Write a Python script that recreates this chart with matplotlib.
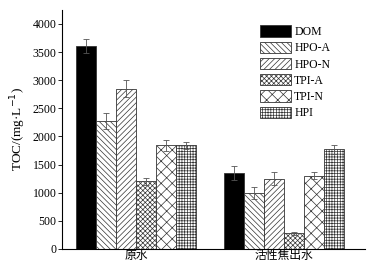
import numpy as np
import matplotlib.pyplot as plt

plt.rcParams['font.family'] = ['Liberation Serif', 'Noto Sans CJK SC']
plt.rcParams['hatch.linewidth'] = 0.5
plt.rcParams['hatch.color'] = '#666666'

grupos = ['原水', '活性焦出水']
fracciones = ['DOM', 'HPO-A', 'HPO-N', 'TPI-A', 'TPI-N', 'HPI']
valores = [
    [3610, 1350],
    [2270, 1000],
    [2850, 1250],
    [1200, 280],
    [1840, 1300],
    [1840, 1770],
]
errores = [
    [120, 120],
    [140, 110],
    [150, 120],
    [60, 30],
    [90, 60],
    [60, 80],
]
tramas = ['', '\\' * 6, '/' * 6, 'x' * 7, 'xxx', '+' * 6]

fig = plt.figure(figsize=(3.67, 2.68), dpi=100)
ax = fig.add_axes([0.169, 0.071, 0.826, 0.892])

x = np.arange(len(grupos))
ancho = 0.135
for i, (nombre, vals, errs, trama) in enumerate(zip(fracciones, valores, errores, tramas)):
    pos = x + (i - 2.5) * ancho
    color = 'black' if i == 0 else 'white'
    ax.bar(pos, vals, ancho, color=color, edgecolor='#333333', linewidth=0.6,
           hatch=trama, label=nombre)
    ax.errorbar(pos, vals, yerr=errs, fmt='none', ecolor='#555555',
                elinewidth=0.6, capsize=2, capthick=0.6)

ax.set_xlim(-0.5, 1.55)
ax.set_ylim(0, 4250)
ax.set_yticks(np.arange(0, 4001, 500))
ax.set_xticks(x)
ax.set_xticklabels(grupos, fontsize=8.5)
ax.tick_params(axis='x', length=0, pad=1)
ax.tick_params(axis='y', labelsize=8.5, length=3, width=0.6, pad=1)
ax.set_ylabel('TOC/(mg·L$^{-1}$)', fontsize=9.5, labelpad=3)
for lado in ['top', 'right']:
    ax.spines[lado].set_visible(False)
for lado in ['left', 'bottom']:
    ax.spines[lado].set_linewidth(0.8)

ax.legend(loc='upper right', bbox_to_anchor=(0.885, 0.935), frameon=False, fontsize=8.5,
          handlelength=2.6, handleheight=1.1, labelspacing=0.3, handletextpad=0.3,
          borderaxespad=0, borderpad=0)

fig.savefig('out.png', dpi=100)
